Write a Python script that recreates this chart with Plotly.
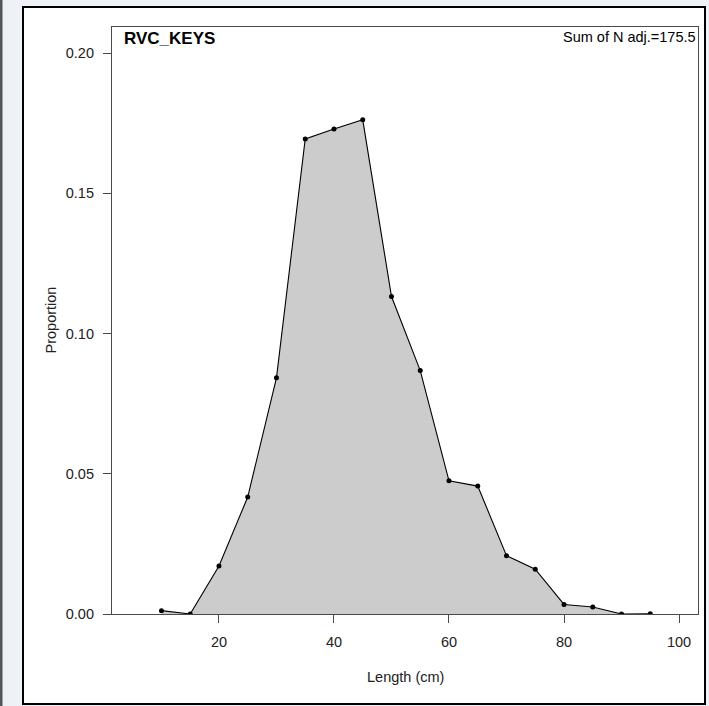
import plotly.graph_objects as go

# Length-frequency composition (proportion by 5 cm length bin)
length_cm = [10, 15, 20, 25, 30, 35, 40, 45, 50, 55, 60, 65, 70, 75, 80, 85, 90, 95]
proportion = [0.0012, 0.0000, 0.0171, 0.0417, 0.0842, 0.1694, 0.1729, 0.1762,
              0.1132, 0.0868, 0.0475, 0.0456, 0.0208, 0.0160, 0.0034, 0.0025,
              0.0000, 0.0001]
x_ticks = [20, 40, 60, 80, 100]
y_ticks = [0.00, 0.05, 0.10, 0.15, 0.20]
panel_title = "RVC_KEYS"
sum_label = "Sum of N adj.=175.5"

W, H = 709, 706
L, R, T, B = 112, 698, 27, 614  # plot-area edges in pixels


def px_x(p):
    return (p - L) / (R - L)


def px_y(p):
    return (B - p) / (B - T)


FONT = "Liberation Sans, Arial, sans-serif"
AXIS_COL = "#4a4a4a"

fig = go.Figure()
fig.add_trace(go.Scatter(
    x=length_cm, y=proportion,
    mode="lines+markers",
    fill="tozeroy",
    fillcolor="rgb(204,204,204)",
    line=dict(color="black", width=1.1),
    marker=dict(color="black", size=5),
    showlegend=False,
    hoverinfo="x+y",
))

fig.update_layout(
    width=W, height=H,
    margin=dict(l=L, r=W - R, t=T, b=H - B, autoexpand=False),
    paper_bgcolor="rgb(238,242,247)",
    plot_bgcolor="white",
    font=dict(family=FONT, size=14.5, color="#222222"),
    shapes=[
        # white panel with black frame
        dict(type="rect", xref="paper", yref="paper", layer="below",
             x0=px_x(23), x1=px_x(705), y0=px_y(704), y1=px_y(7),
             fillcolor="white", line=dict(color="black", width=2)),
        # dark strip on the far left edge
        dict(type="rect", xref="paper", yref="paper", layer="below",
             x0=px_x(0), x1=px_x(2.5), y0=px_y(706), y1=px_y(0),
             fillcolor="#50565e", line=dict(width=0)),
    ],
    annotations=[
        dict(text=panel_title, xref="paper", yref="paper",
             x=px_x(122), y=px_y(38), xanchor="left", yanchor="middle",
             showarrow=False, font=dict(family=FONT, size=17, color="black", weight="bold")),
        dict(text=sum_label, xref="paper", yref="paper",
             x=1.0, y=px_y(37), xanchor="right", yanchor="middle",
             showarrow=False, font=dict(family=FONT, size=14.5, color="black")),
        dict(text="Length (cm)", xref="paper", yref="paper",
             x=0.5, y=px_y(677), xanchor="center", yanchor="middle",
             showarrow=False, font=dict(family=FONT, size=14.5, color="#222222")),
        dict(text="Proportion", xref="paper", yref="paper",
             x=px_x(50), y=0.5, xanchor="center", yanchor="middle", textangle=-90,
             showarrow=False, font=dict(family=FONT, size=14.5, color="#222222")),
    ],
)

fig.update_xaxes(
    range=[1.4, 103.3],
    tickvals=x_ticks, ticktext=[str(v) for v in x_ticks],
    ticks="outside", ticklen=8, tickwidth=1, tickcolor=AXIS_COL,
    ticklabelstandoff=6,
    showline=True, linecolor=AXIS_COL, linewidth=1.2, mirror=True,
    showgrid=False, zeroline=False,
)
fig.update_yaxes(
    range=[0, 0.2093],
    tickvals=y_ticks, ticktext=[f"{v:.2f}" for v in y_ticks],
    ticks="outside", ticklen=8, tickwidth=1, tickcolor=AXIS_COL,
    ticklabelstandoff=6,
    showline=True, linecolor=AXIS_COL, linewidth=1.2, mirror=True,
    showgrid=False, zeroline=False,
)

fig.write_html("out.html")
